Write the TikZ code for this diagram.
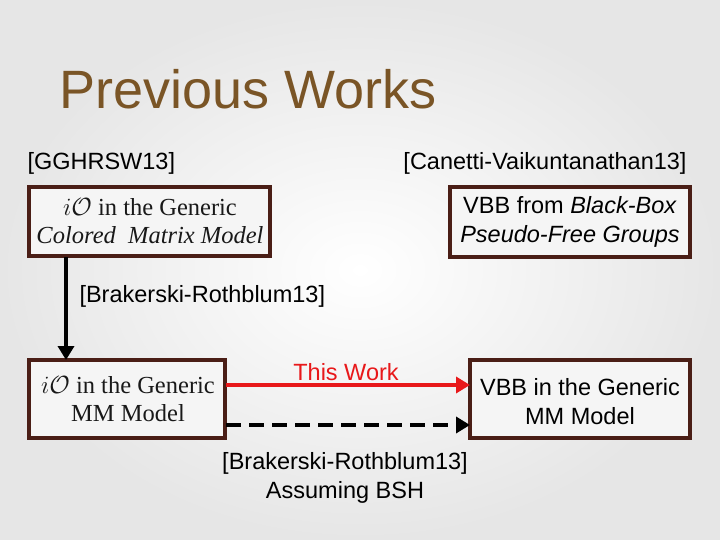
\documentclass[tikz,border=0pt]{standalone}
\usepackage{fontspec}
\setmainfont{Liberation Sans}
\newfontfamily\serifbox{Liberation Serif}
\usetikzlibrary{arrows.meta}
\definecolor{bgc}{HTML}{E6E6E6}
\definecolor{ttl}{HTML}{7A5526}
\definecolor{bord}{HTML}{4A1E16}
\definecolor{redw}{HTML}{E8181A}
\begin{document}
\begin{tikzpicture}[x=1pt,y=-1pt,
  box/.style={draw=bord,line width=3.5pt,fill=white!60!bgc},
  lbl/.style={font=\fontsize{23.5}{29}\selectfont,align=center},
  sb/.style={font=\serifbox\fontsize{24.5}{28}\selectfont,align=center,text=black!90},
  arr/.style={line width=4.5pt,-{Triangle[length=14pt,width=16pt]}}]
\shade[inner color=white,outer color=bgc] (0,0) rectangle (720,540);
\useasboundingbox (0,0) rectangle (720,540);
\node[anchor=west,text=ttl,font=\fontsize{54}{60}\selectfont] (title) at (56,89) {Previous Works};
\node[lbl,anchor=west] (l1) at (24,163) {[GGHRSW13]};
\node[lbl] (l2) at (545,163) {[Canetti-Vaikuntanathan13]};
\path[box] (29,187) rectangle (270,256);
\node[sb] (b1) at (150,221.5) {$i\mathcal{O}$ in the Generic\\\itshape Colored\ \ Matrix Model};
\path[box] (450,187) rectangle (690,257);
\node[lbl] (b3) at (570,222) {VBB from \textit{Black-Box}\\\textit{Pseudo-Free Groups}};
\path[box] (29,360) rectangle (225,438);
\node[sb] (b2) at (128,399) {$i\mathcal{O}$ in the Generic\\MM Model};
\path[box] (470,360) rectangle (690,438);
\node[lbl] (b4) at (580,402) {VBB in the Generic\\MM Model};
\coordinate (a1) at (66,257); \coordinate (a2) at (66,360);
\draw[arr] (a1) -- (a2);
\node[lbl,anchor=west] (br) at (76,296) {[Brakerski-Rothblum13]};
\coordinate (r1) at (226,385); \coordinate (r2) at (470,385);
\draw[arr,draw=redw,fill=redw,line width=3.5pt] (r1) -- (r2);
\node[lbl,text=redw] (tw) at (346,372) {This Work};
\coordinate (d1) at (226,425); \coordinate (d2) at (470,425);
\draw[arr,dash pattern=on 15pt off 8pt] (d1) -- (d2);
\node[lbl] (bsh) at (345,478) {[Brakerski-Rothblum13]\\Assuming BSH};
\end{tikzpicture}
\end{document}
